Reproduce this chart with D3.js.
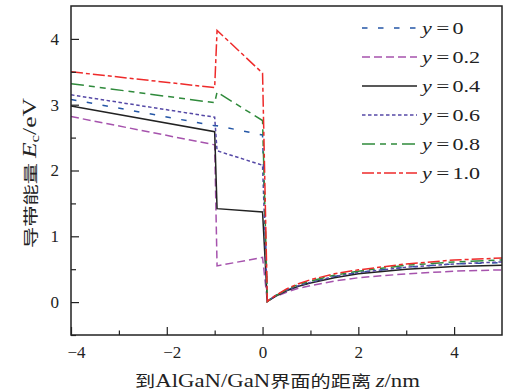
<!DOCTYPE html>
<html>
<head>
<meta charset="utf-8">
<script src="https://cdn.jsdelivr.net/npm/d3@7"></script>
<style>
  body { margin: 0; background: #fff; }
  svg { display: block; }
</style>
</head>
<body>
<svg id="chart" width="509" height="392"></svg>
<script>
// positions (nm) where the curves are sampled
const zBarrier = [-4, -1.0, -0.95, 0.0];
const zGaN = [0.1, 0.25, 0.5, 0.75, 1, 1.5, 2, 3, 4, 5];

// conduction band energy Ec (eV) in the barrier region
const ecBarrier_y0 = [3.08, 2.68, 2.68, 2.54];
const ecBarrier_y02 = [2.82, 2.39, 0.55, 0.68];
const ecBarrier_y04 = [2.98, 2.59, 1.42, 1.37];
const ecBarrier_y06 = [3.15, 2.81, 2.30, 2.08];
const ecBarrier_y08 = [3.32, 3.03, 3.19, 2.76];
const ecBarrier_y10 = [3.50, 3.26, 4.13, 3.48];

// conduction band energy Ec (eV) in GaN
const ecGaN_y0 = [0.01, 0.09, 0.18, 0.25, 0.30, 0.39, 0.45, 0.53, 0.58, 0.60];
const ecGaN_y02 = [0.01, 0.08, 0.15, 0.21, 0.25, 0.32, 0.37, 0.43, 0.47, 0.49];
const ecGaN_y04 = [0.01, 0.08, 0.17, 0.24, 0.29, 0.37, 0.43, 0.50, 0.54, 0.56];
const ecGaN_y06 = [0.01, 0.09, 0.18, 0.25, 0.30, 0.39, 0.45, 0.53, 0.58, 0.61];
const ecGaN_y08 = [0.01, 0.09, 0.19, 0.27, 0.32, 0.41, 0.47, 0.56, 0.61, 0.64];
const ecGaN_y10 = [0.01, 0.09, 0.20, 0.28, 0.34, 0.43, 0.49, 0.58, 0.64, 0.67];

const seriesLabels = ['0', '0.2', '0.4', '0.6', '0.8', '1.0'];
const xTicks = [-4, -2, 0, 2, 4];
const yTicks = [0, 1, 2, 3, 4];

const SERIF = '"Liberation Serif", "DejaVu Serif", serif';
const CJK = '"Noto Sans CJK SC", sans-serif';

const styles = [
  { color: '#2456a6', dash: '5.5,10.5' },
  { color: '#a653ad', dash: '8,4' },
  { color: '#222222', dash: null },
  { color: '#5548a6', dash: '3.5,2.5' },
  { color: '#2f8a3b', dash: '13,5,6,5,6,5' },
  { color: '#ee2a2a', dash: '12,3,4,3' }
];

const barrierSets = [ecBarrier_y0, ecBarrier_y02, ecBarrier_y04, ecBarrier_y06, ecBarrier_y08, ecBarrier_y10];
const ganSets = [ecGaN_y0, ecGaN_y02, ecGaN_y04, ecGaN_y06, ecGaN_y08, ecGaN_y10];

const series = seriesLabels.map((lab, i) => ({
  label: lab,
  style: styles[i],
  points: zBarrier.map((z, j) => [z, barrierSets[i][j]])
    .concat(zGaN.map((z, j) => [z, ganSets[i][j]]))
}));

const svg = d3.select('#chart');
const m = { left: 71, right: 502, top: 6, bottom: 335 };

const x = d3.scaleLinear().domain([-4, 5]).range([m.left, m.right]);
const y = d3.scaleLinear().domain([-0.5, 4.5]).range([m.bottom, m.top]);

svg.append('clipPath').attr('id', 'plot-clip')
  .append('rect')
  .attr('x', m.left).attr('y', m.top)
  .attr('width', m.right - m.left).attr('height', m.bottom - m.top);

// lines
const line = d3.line().x(d => x(d[0])).y(d => y(d[1]));
svg.append('g').attr('clip-path', 'url(#plot-clip)')
  .selectAll('path')
  .data(series)
  .enter()
  .append('path')
  .attr('d', d => line(d.points))
  .attr('fill', 'none')
  .attr('stroke', d => d.style.color)
  .attr('stroke-width', 1.5)
  .attr('stroke-dasharray', d => d.style.dash);

// axes, ticks pointing inward
const xAxis = svg.append('g')
  .attr('transform', `translate(0,${m.bottom})`)
  .call(d3.axisBottom(x).tickValues(xTicks).tickSize(-8).tickPadding(11).tickFormat(d3.format('d')));
const xMinor = svg.append('g')
  .attr('transform', `translate(0,${m.bottom})`)
  .call(d3.axisBottom(x).tickValues([-3, -1, 1, 3]).tickSize(-4.5).tickFormat(''));
const yAxis = svg.append('g')
  .attr('transform', `translate(${m.left},0)`)
  .call(d3.axisLeft(y).tickValues(yTicks).tickSize(-8).tickPadding(12).tickFormat(d3.format('d')));
const yMinor = svg.append('g')
  .attr('transform', `translate(${m.left},0)`)
  .call(d3.axisLeft(y).tickValues([-0.5, 0.5, 1.5, 2.5, 3.5]).tickSize(-5).tickFormat(''));

[xAxis, xMinor, yAxis, yMinor].forEach(g => {
  g.select('.domain').remove();
  g.attr('font-family', null).attr('font-size', null);
  g.selectAll('line').attr('stroke', '#222').attr('stroke-width', 1.2);
  g.selectAll('text')
    .attr('fill', '#222')
    .style('font-family', SERIF)
    .style('font-size', '17px');
});
// negative labels sit a little to the right in the original
xAxis.selectAll('text').attr('dx', d => d < 0 ? 5 : 0);

// frame
svg.append('rect')
  .attr('x', m.left).attr('y', m.top)
  .attr('width', m.right - m.left).attr('height', m.bottom - m.top)
  .attr('fill', 'none').attr('stroke', '#222').attr('stroke-width', 1.5);

// legend
const legend = svg.append('g').attr('transform', 'translate(362,28)');
const rows = legend.selectAll('g')
  .data(series)
  .enter()
  .append('g')
  .attr('transform', (d, i) => `translate(0,${i * 29})`);
rows.append('line')
  .attr('x1', 0).attr('x2', 55)
  .attr('stroke', d => d.style.color)
  .attr('stroke-width', 1.5)
  .attr('stroke-dasharray', d => d.style.dash);
const lt = rows.append('g')
  .attr('transform', 'translate(60,5.5) scale(1.3,1)')
  .style('font-family', SERIF)
  .style('font-size', '17px')
  .attr('fill', '#222');
lt.append('text').attr('x', 0).style('font-style', 'italic').text('y');
lt.append('text').attr('x', 10.5).attr('transform', 'scale(1.05,1)').text('=');
lt.append('text').attr('x', 23.5).text(d => d.label);

// fit a title to the width it has in the original
function fitWidth(sel, target) {
  const w = sel.node().getBBox().width;
  return target / w;
}

// x title
const xt = svg.append('text')
  .attr('text-anchor', 'middle')
  .style('font-family', CJK)
  .style('font-size', '16px')
  .attr('fill', '#222');
xt.append('tspan').text('到');
xt.append('tspan').style('font-family', SERIF).style('font-size', '18px').text('AlGaN/GaN');
xt.append('tspan').text('界面的距离 ');
xt.append('tspan').style('font-family', SERIF).style('font-size', '18px').style('font-style', 'italic').text('z');
xt.append('tspan').style('font-family', SERIF).style('font-size', '18px').text('/nm');
const sx = fitWidth(xt, 285);
xt.attr('transform', `translate(277.5,387) scale(${sx},1)`);

// y title
const yt = svg.append('text')
  .attr('text-anchor', 'middle')
  .style('font-family', CJK)
  .style('font-size', '15px')
  .attr('fill', '#222');
yt.append('tspan').text('导带能量 ');
yt.append('tspan').style('font-family', SERIF).style('font-size', '18px').style('font-style', 'italic').text('E');
yt.append('tspan').style('font-family', SERIF).style('font-size', '12px').attr('dy', 3).text('c');
yt.append('tspan').style('font-family', SERIF).style('font-size', '18px').attr('dy', -3).text('/eV');
const sy = fitWidth(yt, 150);
yt.attr('transform', `translate(36,173) rotate(-90) scale(${sy},1)`);
</script>
</body>
</html>
